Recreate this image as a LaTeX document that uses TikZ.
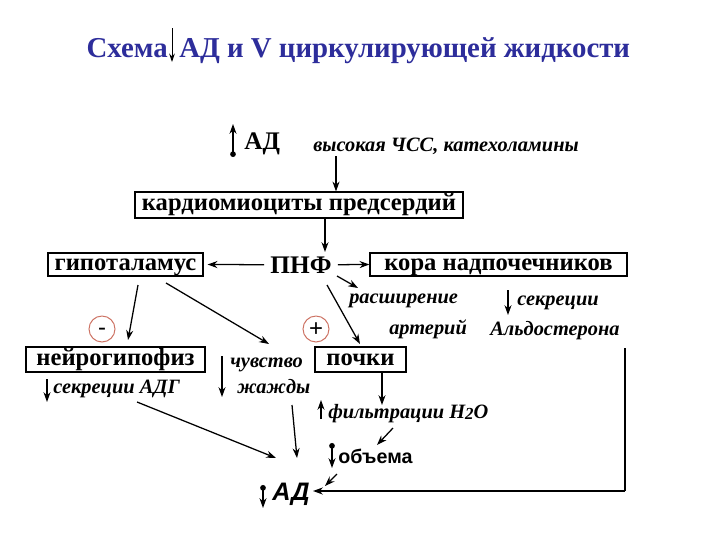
\documentclass[tikz,border=0pt]{standalone}
\usepackage{fontspec}
\setmainfont{Liberation Serif}
\setsansfont{Liberation Sans}
\usetikzlibrary{arrows.meta}
\definecolor{titleblue}{RGB}{45,45,155}
\definecolor{circred}{RGB}{205,115,100}
\begin{document}
\begin{tikzpicture}[x=0.25mm,y=-0.25mm,
  title/.style={inner sep=0pt, text=titleblue, font=\bfseries\fontsize{20.5}{22}\selectfont},
  box/.style={draw, line width=0.8pt, inner sep=0pt, text height=8pt, text depth=0pt, font=\bfseries\fontsize{17.5}{20}\selectfont},
  bt/.style={inner sep=0pt, font=\bfseries\fontsize{18}{20}\selectfont},
  it/.style={inner sep=0pt, anchor=base west, font=\bfseries\itshape\fontsize{14.5}{17}\selectfont},
  arr/.style={line width=0.9pt, -{Stealth[length=7pt,width=5pt]}},
  darr/.style={line width=0.9pt, {Circle[length=4pt]}-{Stealth[length=7pt,width=5pt]}},
  pm/.style={draw=circred, circle, line width=0.7pt, minimum size=6.5mm, inner sep=0pt, text depth=0pt, font=\sffamily\fontsize{17}{17}\selectfont}]
\useasboundingbox (0,0) rectangle (720,540);
% title
\node[title, anchor=base east] (sx) at (168,57) {Схема};
\node[title, anchor=base west] (tt) at (179,57) {АД и V циркулирующей жидкости};
\coordinate (ta) at (172,28);
\coordinate (tb) at (172,62);
\draw[line width=0.7pt, -{Stealth[length=6pt,width=4pt]}] (ta) -- (tb);
% top
\node[bt, anchor=base west] (ad1) at (244,149) {АД};
\coordinate (a1) at (233,157);
\coordinate (a2) at (233,124);
\draw[darr] (a1) -- (a2);
\node[it] (vys) at (313,151) {высокая ЧСС, катехоламины};
\node[box, minimum width=82mm, minimum height=6.5mm] (kard) at (299,205) {кардиомиоциты предсердий};
\coordinate (k1) at (336,156);
\draw[arr] (k1) -- (k1 |- kard.north);
\node[bt, anchor=base] (pnf) at (301,273) {ПНФ};
\coordinate (k2) at (325,218);
\draw[arr] (k2) -- (325,252);
\node[box, minimum width=38.75mm, minimum height=5.75mm] (gip) at (125.5,264.5) {гипоталамус};
\node[box, minimum width=64.25mm, minimum height=5.75mm] (kora) at (498.5,264.5) {кора надпочечников};
\draw[arr, shorten <=1.5mm, shorten >=1mm] (pnf.west) -- (gip.east);
\draw[arr, shorten <=1.5mm] (pnf.east) -- (kora.west);
% right texts
\node[it] (ras) at (349,303) {расширение};
\node[it] (art) at (389,334) {артерий};
\node[it] (sek) at (517,305) {секреции};
\node[it] (ald) at (490,335) {Альдостерона};
\coordinate (s1) at (508,290);
\coordinate (s2) at (508,315);
\draw[arr] (s1) -- (s2);
\coordinate (p1) at (337,276);
\coordinate (p2) at (358,288);
\draw[arr] (p1) -- (p2);
\node[box, minimum width=22.75mm, minimum height=6.25mm] (poch) at (360.5,359.5) {почки};
\coordinate (p3) at (327,285);
\coordinate (p4) at (360,344);
\draw[arr] (p3) -- (p4);
% circles
\node[pm, text height=8.6pt] (minus) at (102,329) {-};
\node[pm, text height=10.4pt] (plus) at (316,329) {+};
% left
\node[box, minimum width=44.75mm, minimum height=6.25mm] (neu) at (115.5,359.5) {нейрогипофиз};
\coordinate (g1) at (138,285);
\coordinate (g2) at (128,340);
\draw[arr] (g1) -- (g2);
\coordinate (g3) at (166,283);
\coordinate (g4) at (269,344);
\draw[arr] (g3) -- (g4);
\node[it] (sad) at (53,393) {секреции АДГ};
\coordinate (n1) at (47,379);
\coordinate (n2) at (47,402);
\draw[arr] (n1) -- (n2);
\node[it] (chuv) at (230,367) {чувство};
\node[it] (zhazh) at (237,393) {жажды};
\coordinate (c1) at (222,356);
\coordinate (c2) at (222,397);
\draw[arr] (c1) -- (c2);
% kidney chain
\coordinate (q1) at (382,405);
\draw[arr] (poch.south -| q1) -- (q1);
\node[it] (fil) at (328,418) {фильтрации H\raisebox{-1pt}{\fontsize{12}{12}\selectfont 2}O};
\coordinate (f1) at (321,419);
\coordinate (f2) at (321,400);
\draw[arr] (f1) -- (f2);
\coordinate (f3) at (393,428);
\coordinate (f4) at (377,445);
\draw[arr] (f3) -- (f4);
\node[anchor=base west, inner sep=0pt, font=\sffamily\bfseries\fontsize{14}{16}\selectfont] (obj) at (338,463) {объема};
\coordinate (o1) at (332,443);
\coordinate (o2) at (332,468);
\draw[darr] (o1) -- (o2);
\coordinate (o3) at (337,474);
\coordinate (o4) at (325,486);
\draw[arr] (o3) -- (o4);
% bottom AD
\node[anchor=base west, inner sep=0pt, font=\sffamily\bfseries\itshape\fontsize{18}{21}\selectfont] (ad2) at (272,500) {АД};
\coordinate (d1) at (263,485);
\coordinate (d2) at (263,508);
\draw[darr] (d1) -- (d2);
\coordinate (e1) at (137,402);
\coordinate (e2) at (276,458);
\draw[arr] (e1) -- (e2);
\coordinate (e3) at (292,405);
\coordinate (e4) at (297,458);
\draw[arr] (e3) -- (e4);
\coordinate (r1) at (625,348);
\coordinate (r2) at (625,491);
\draw[line width=0.9pt] (r1) -- (r2);
\coordinate (r3) at (313,491);
\draw[line width=1.2pt, -{Stealth[length=7pt,width=5pt]}] (r2) -- (r3);
\end{tikzpicture}
\end{document}
